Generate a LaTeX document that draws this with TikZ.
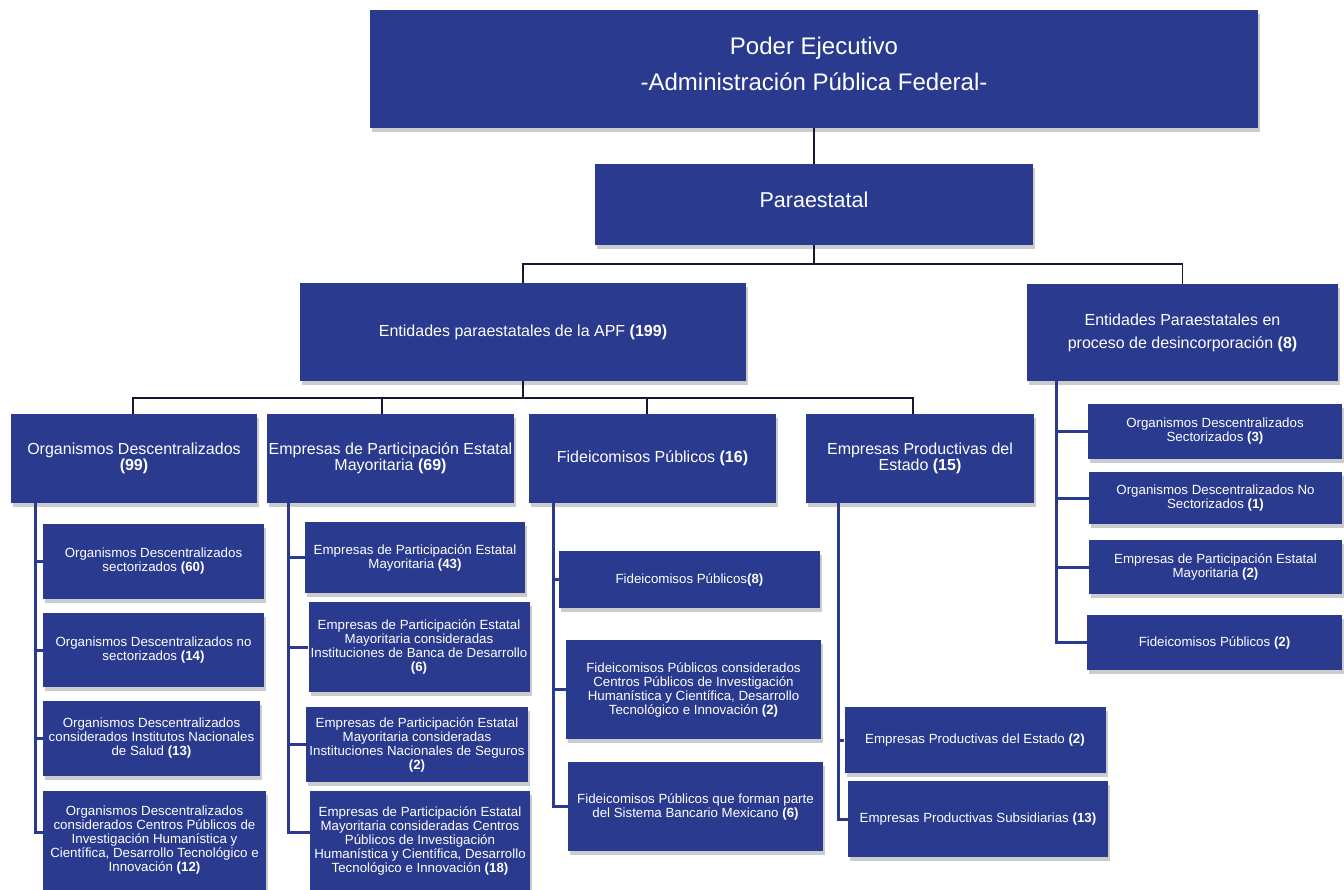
\documentclass[tikz,border=0pt]{standalone}
\usepackage{fontspec}
\setmainfont{Liberation Sans}
\usetikzlibrary{shadows}
\definecolor{apfblue}{RGB}{42,58,143}
\definecolor{linedark}{RGB}{22,24,52}
\tikzset{
  box/.style={fill=apfblue, text=white, align=center, inner sep=0pt,
    drop shadow={shadow xshift=2pt, shadow yshift=-4pt, fill=black!40}},
  leaf/.style={box, font=\fontsize{13.3}{14}\selectfont},
  mid/.style={box, font=\fontsize{16}{16.3}\selectfont},
  link/.style={draw=linedark, line width=1.6pt},
  bar/.style={draw=apfblue, line width=3pt},
}

\begin{document}
\begin{tikzpicture}[x=1pt, y=-1pt]
	\useasboundingbox (0,0) rectangle (1344,890);
	% upper levels
	\node[box, minimum width=888pt, minimum height=118pt, text depth=11pt, font=\fontsize{24}{36}\selectfont] (pod) at (814,69) {Poder Ejecutivo\\-Administración Pública Federal-};
	\node[box, minimum width=438pt, minimum height=81pt, text depth=10pt, font=\fontsize{21.5}{24}\selectfont] (para) at (814,204.5) {Paraestatal};
	\node[mid, minimum width=446pt, minimum height=98pt] (apf) at (523,332) {Entidades paraestatales de la APF \textbf{(199)}};
	\node[mid, minimum width=311pt, minimum height=97pt, font=\fontsize{16}{23}\selectfont] (des) at (1182.5,332.5) {Entidades Paraestatales en\\proceso de desincorporación \textbf{(8)}};
	\node[mid, minimum width=246pt, minimum height=89pt] (od) at (134,458.5) {Organismos Descentralizados\\\textbf{(99)}};
	\node[mid, minimum width=247pt, minimum height=89pt] (epem) at (390.5,458.5) {Empresas de Participación Estatal\\Mayoritaria \textbf{(69)}};
	\node[mid, minimum width=247pt, minimum height=89pt] (fp) at (652.5,458.5) {Fideicomisos Públicos \textbf{(16)}};
	\node[mid, minimum width=228pt, minimum height=89pt] (epe) at (920,458.5) {Empresas Productivas del\\Estado \textbf{(15)}};
	% organismos descentralizados
	\node[leaf, minimum width=221pt, minimum height=75pt] (c1) at (153.5,561.5) {Organismos Descentralizados\\sectorizados \textbf{(60)}};
	\node[leaf, minimum width=221pt, minimum height=74pt] (c2) at (153.5,650) {Organismos Descentralizados no\\sectorizados \textbf{(14)}};
	\node[leaf, minimum width=217pt, minimum height=75pt] (c3) at (151.5,738.5) {Organismos Descentralizados\\considerados Institutos Nacionales\\de Salud \textbf{(13)}};
	\node[leaf, minimum width=223pt, minimum height=99pt] (c4) at (154.5,840.5) {Organismos Descentralizados\\considerados Centros Públicos de\\Investigación Humanística y\\Científica, Desarrollo Tecnológico e\\Innovación \textbf{(12)}};
	% empresas de participacion estatal mayoritaria
	\node[leaf, minimum width=220pt, minimum height=71pt] (e1) at (415,557.5) {Empresas de Participación Estatal\\Mayoritaria \textbf{(43)}};
	\node[leaf, minimum width=221pt, minimum height=90pt] (e2) at (419,647) {Empresas de Participación Estatal\\Mayoritaria consideradas\\Instituciones de Banca de Desarrollo\\\textbf{(6)}};
	\node[leaf, minimum width=222pt, minimum height=75pt] (e3) at (417,744.5) {Empresas de Participación Estatal\\Mayoritaria consideradas\\Instituciones Nacionales de Seguros\\\textbf{(2)}};
	\node[leaf, minimum width=220pt, minimum height=99pt] (e4) at (420,840.5) {Empresas de Participación Estatal\\Mayoritaria consideradas Centros\\Públicos de Investigación\\Humanística y Científica, Desarrollo\\Tecnológico e Innovación \textbf{(18)}};
	% fideicomisos
	\node[leaf, minimum width=261pt, minimum height=57pt] (f1) at (689.5,579.5) {Fideicomisos Públicos\textbf{(8)}};
	\node[leaf, minimum width=255pt, minimum height=99pt] (f2) at (693.5,689.5) {Fideicomisos Públicos considerados\\Centros Públicos de Investigación\\Humanística y Científica, Desarrollo\\Tecnológico e Innovación \textbf{(2)}};
	\node[leaf, minimum width=255pt, minimum height=89pt] (f3) at (695.5,806.5) {Fideicomisos Públicos que forman parte\\del Sistema Bancario Mexicano \textbf{(6)}};
	% empresas productivas
	\node[leaf, minimum width=261pt, minimum height=66pt] (p1) at (975,740) {Empresas Productivas del Estado \textbf{(2)}};
	\node[leaf, minimum width=260pt, minimum height=76pt] (p2) at (978,819) {Empresas Productivas Subsidiarias \textbf{(13)}};
	% en desincorporacion
	\node[leaf, minimum width=254pt, minimum height=55pt] (d1) at (1215,431.5) {Organismos Descentralizados\\Sectorizados \textbf{(3)}};
	\node[leaf, minimum width=253pt, minimum height=52pt] (d2) at (1215.5,498) {Organismos Descentralizados No\\Sectorizados \textbf{(1)}};
	\node[leaf, minimum width=253pt, minimum height=54pt] (d3) at (1215.5,567) {Empresas de Participación Estatal\\Mayoritaria \textbf{(2)}};
	\node[leaf, minimum width=255pt, minimum height=55pt] (d4) at (1214.5,642.5) {Fideicomisos Públicos \textbf{(2)}};

	% connectors
	\draw[link] (pod.south) -- (para.north);
	\draw[link] (para.south) -- ++(0,19) coordinate (bus2);
	\draw[link] (bus2) -| (apf.north);
	\draw[link] (bus2) -| (des.north);
	\draw[link] (apf.south) -- ++(0,17) coordinate (bus3);
	\foreach \n/\dx in {od/-1,epem/-8.5,fp/-5.5,epe/-7}
		\draw[link] (bus3) -| ([xshift=\dx pt]\n.north);

	\coordinate (odbar) at ([xshift=24.5pt]od.south west);
	\coordinate (epembar) at ([xshift=21.6pt]epem.south west);
	\coordinate (fpbar) at ([xshift=24.7pt]fp.south west);
	\coordinate (epebar) at ([xshift=33pt]epe.south west);
	\coordinate (desbar) at ([xshift=30pt]des.south west);
	\foreach \n in {c1,c2,c3}
		\draw[bar] (odbar) |- (\n.west);
	\draw[bar] (odbar) |- ([yshift=8pt]c4.west);
	\foreach \n in {e1,e2,e3}
		\draw[bar] (epembar) |- (\n.west);
	\draw[bar] (epembar) |- ([yshift=8pt]e4.west);
	\foreach \n in {f1,f2,f3}
		\draw[bar] (fpbar) |- (\n.west);
	\foreach \n in {p1,p2}
		\draw[bar] (epebar) |- (\n.west);
	\foreach \n in {d1,d2,d3,d4}
		\draw[bar] (desbar) |- (\n.west);
\end{tikzpicture}
\end{document}
